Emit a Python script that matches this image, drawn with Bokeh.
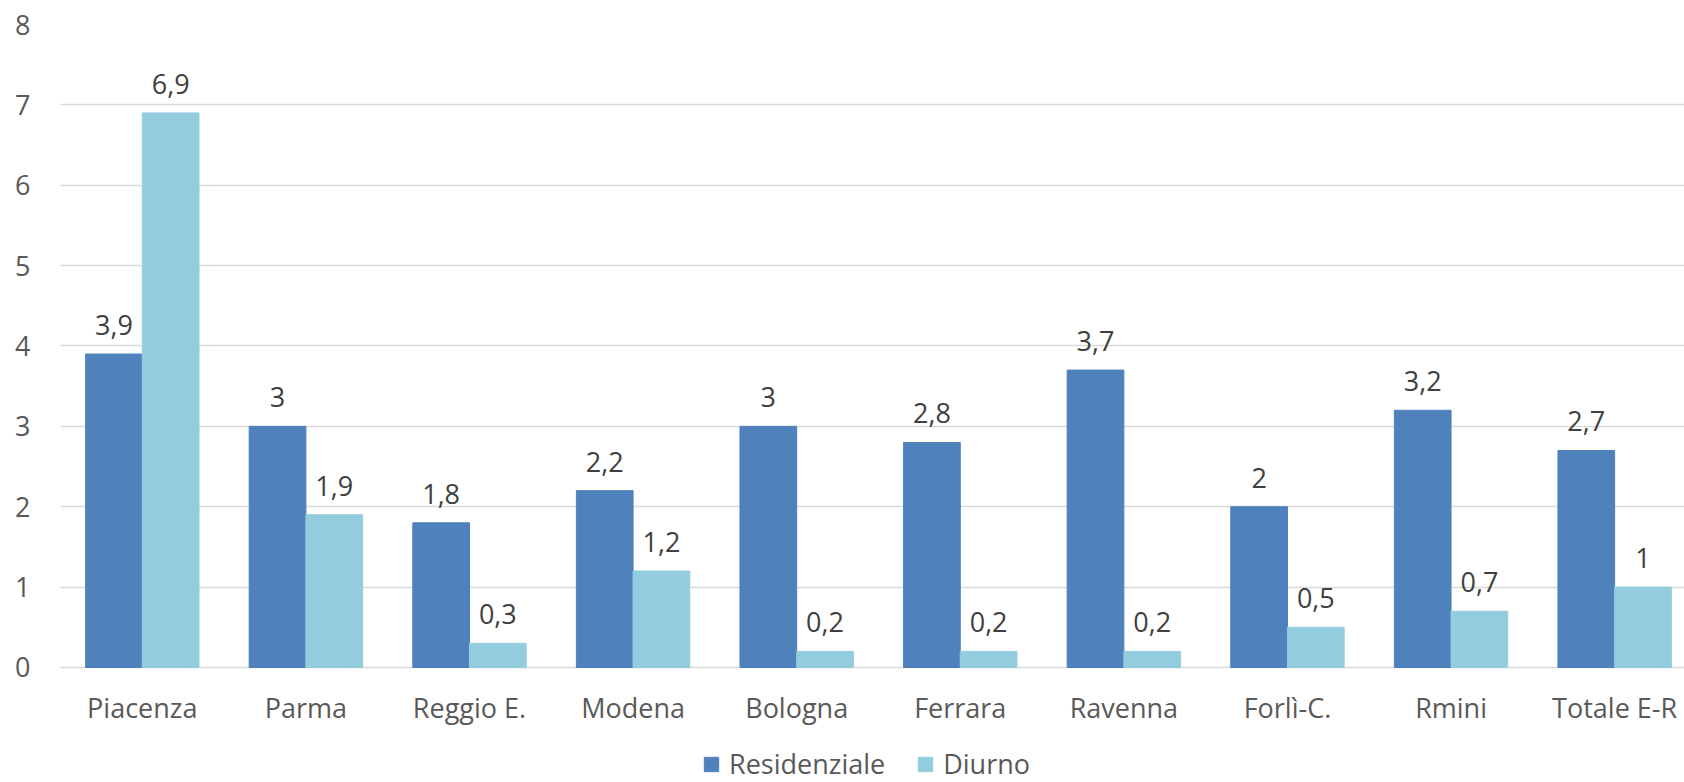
from bokeh.plotting import figure
from bokeh.models import ColumnDataSource, FixedTicker, LabelSet, Legend, LegendItem, Range1d
from bokeh.core.properties import value
from bokeh.embed import file_html
from bokeh.resources import INLINE

categories = ["Piacenza", "Parma", "Reggio E.", "Modena", "Bologna", "Ferrara",
              "Ravenna", "Forlì-C.", "Rmini", "Totale E-R"]
residenziale = [3.9, 3.0, 1.8, 2.2, 3.0, 2.8, 3.7, 2.0, 3.2, 2.7]
diurno = [6.9, 1.9, 0.3, 1.2, 0.2, 0.2, 0.2, 0.5, 0.7, 1.0]
series_names = ["Residenziale", "Diurno"]
y_ticks = [0, 1, 2, 3, 4, 5, 6, 7, 8]

FONT = "Open Sans"
C1 = "#4F81BD"
C2 = "#93CDDD"
BW = 0.3466

def fmt(v):
    return f"{v:g}".replace(".", ",")

idx = list(range(len(categories)))
src1 = ColumnDataSource(dict(x=[i - BW / 2 for i in idx], y=residenziale,
                             lbl=[fmt(v) for v in residenziale]))
src2 = ColumnDataSource(dict(x=[i + BW / 2 for i in idx], y=diurno,
                             lbl=[fmt(v) for v in diurno]))
src_cat = ColumnDataSource(dict(x=idx, y=[0] * len(idx), lbl=categories))

p = figure(width=1684, height=782, output_backend="svg", toolbar_location=None,
           x_range=Range1d(-0.5, 9.427), y_range=Range1d(-1.431, 8),
           x_axis_location=None,
           min_border_left=60, min_border_right=0, min_border_top=24, min_border_bottom=0)
p.outline_line_color = None
p.background_fill_color = "white"
p.border_fill_color = "white"

r1 = p.vbar(x="x", top="y", bottom=0, width=BW, source=src1, fill_color=C1, line_color=C1)
r2 = p.vbar(x="x", top="y", bottom=0, width=BW, source=src2, fill_color=C2, line_color=C2)

for src in (src1, src2):
    lab = LabelSet(x="x", y="y", text="lbl", source=src, y_offset=19,
                   text_align="center", text_baseline="alphabetic",
                   text_font=value(FONT), text_font_size="27px", text_color="#404040")
    p.add_layout(lab)

cat_labels = LabelSet(x="x", y="y", text="lbl", source=src_cat, y_offset=-51,
                      text_align="center", text_baseline="alphabetic",
                      text_font=value(FONT), text_font_size="27px", text_color="#595959")
p.add_layout(cat_labels)

p.xgrid.grid_line_color = None
p.ygrid.grid_line_color = "#D9D9D9"
p.ygrid.grid_line_width = 1.5
p.yaxis.ticker = FixedTicker(ticks=y_ticks)

ax = p.yaxis[0]
ax.major_tick_line_color = None
ax.minor_tick_line_color = None
ax.major_tick_out = 0
ax.major_tick_in = 0
ax.minor_tick_out = 0
ax.major_label_text_font = FONT
ax.major_label_text_font_size = "27px"
ax.major_label_text_color = "#595959"
ax.axis_line_color = None
ax.major_label_standoff = 30

legend = Legend(items=[LegendItem(label=series_names[0], renderers=[r1]),
                       LegendItem(label=series_names[1], renderers=[r2])],
                orientation="horizontal", location=(642, 0),
                glyph_width=18, glyph_height=18, label_standoff=9, spacing=31,
                padding=0, margin=0, border_line_color=None, background_fill_alpha=0,
                label_text_font=FONT, label_text_font_size="27px",
                label_text_color="#595959")
p.add_layout(legend, "center")

open("out.html", "w").write(file_html(p, INLINE))
